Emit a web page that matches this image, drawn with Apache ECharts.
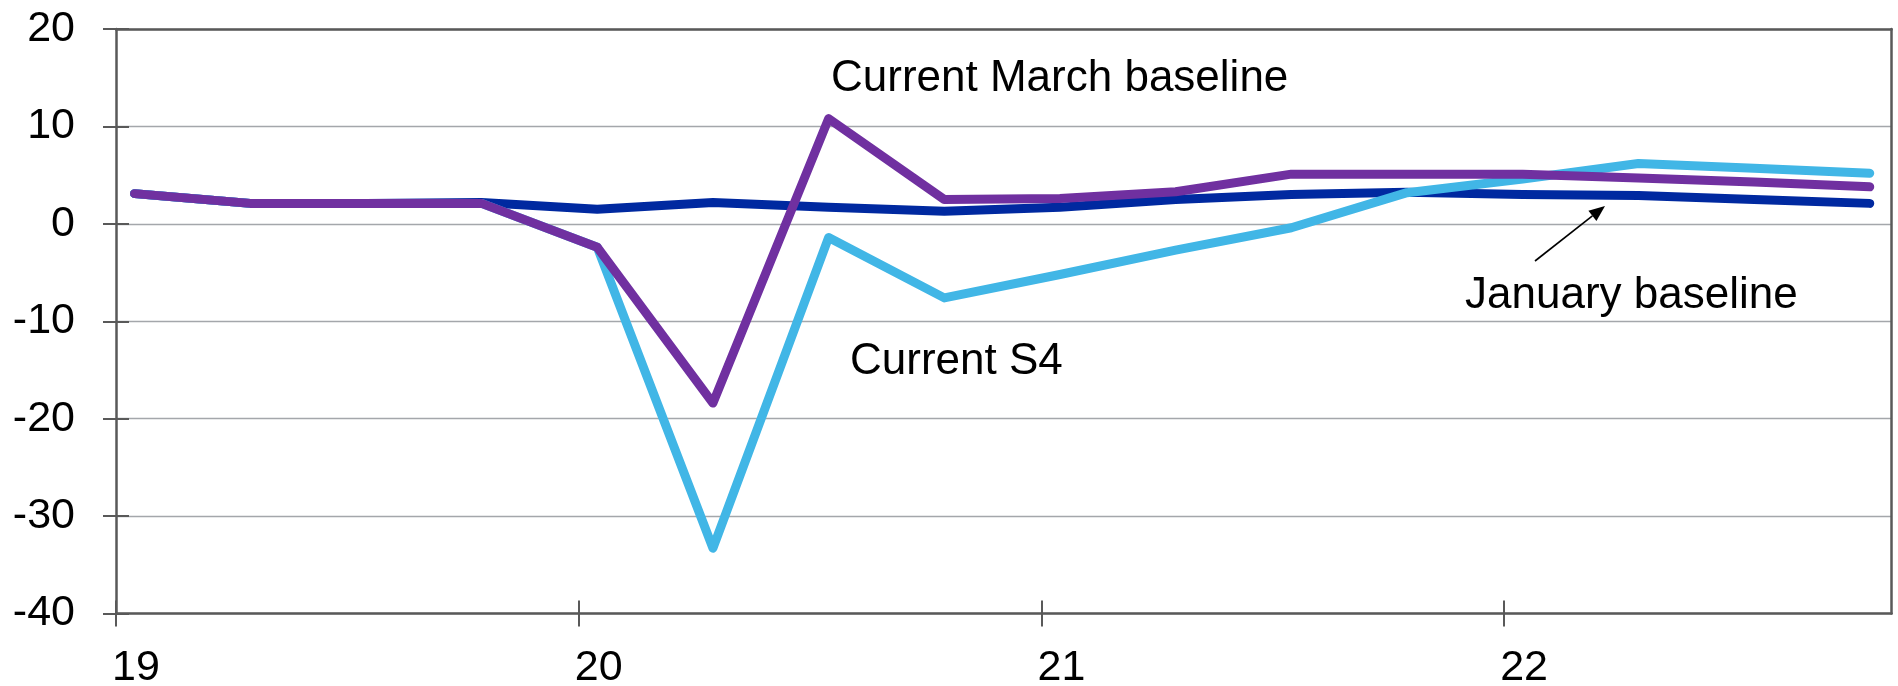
<!DOCTYPE html>
<html>
<head>
<meta charset="utf-8">
<script src="https://cdn.jsdelivr.net/npm/echarts@6/dist/echarts.min.js"></script>
<style>
  html, body { margin: 0; padding: 0; background: #ffffff; }
  #chart { width: 1898px; height: 686px; }
</style>
</head>
<body>
<div id="chart"></div>
<script>
// Quarterly profile, 2019 Q1 to 2022 Q4 (per cent)
const quarters = [
  '2019Q1', '2019Q2', '2019Q3', '2019Q4',
  '2020Q1', '2020Q2', '2020Q3', '2020Q4',
  '2021Q1', '2021Q2', '2021Q3', '2021Q4',
  '2022Q1', '2022Q2', '2022Q3', '2022Q4'
];
const januaryBaseline = [3.1, 2.1, 2.1, 2.2, 1.5, 2.2, 1.7, 1.3, 1.7, 2.5, 3.0, 3.25, 3.0, 2.9, 2.5, 2.1];
const currentMarchBaseline = [3.1, 2.1, 2.1, 2.1, -2.4, -18.4, 10.8, 2.5, 2.6, 3.3, 5.1, 5.1, 5.1, 4.7, 4.3, 3.8];
const currentS4 = [3.1, 2.1, 2.1, 2.1, -2.4, -33.3, -1.4, -7.6, -5.2, -2.7, -0.4, 3.2, 4.6, 6.2, 5.7, 5.2];

const yearTicks = [19, 20, 21, 22];

// Each quarterly observation sits just after the start of its quarter on the year scale
const POINT_OFFSET = 0.04;
function quarterToX(q) {
  const year = parseInt(q.slice(2, 4), 10);
  const qn = parseInt(q.slice(5), 10);
  return year + (qn - 1) / 4 + POINT_OFFSET;
}
function pairs(values) {
  return quarters.map((q, i) => [quarterToX(q), values[i]]);
}

const FONT = '"Liberation Sans", Arial, sans-serif';
const AXIS_COLOR = '#595959';
const GRID_COLOR = '#A4A7AB';
const X_MIN = 19, X_MAX = 22.837;
const LINE_W = 9;

const chart = echarts.init(document.getElementById('chart'), null, { renderer: 'canvas' });

// Arrow pointing at the January baseline line
const arrowStart = [1535, 261];
const arrowTip = [1605, 206];
function arrowGraphics(s, t, headLen, headHalf) {
  const dx = t[0] - s[0], dy = t[1] - s[1];
  const len = Math.hypot(dx, dy);
  const ux = dx / len, uy = dy / len;
  const bx = t[0] - ux * headLen, by = t[1] - uy * headLen;
  const px = -uy * headHalf, py = ux * headHalf;
  return [
    { type: 'line', shape: { x1: s[0], y1: s[1], x2: bx, y2: by },
      style: { stroke: '#000', lineWidth: 1.6 }, z: 100 },
    { type: 'polygon', shape: { points: [t, [bx + px, by + py], [bx - px, by - py]] },
      style: { fill: '#000' }, z: 100 }
  ];
}

const annotationStyle = { fill: '#000', font: '44px ' + FONT, verticalAlign: 'middle', align: 'left' };

const option = {
  animation: false,
  backgroundColor: '#ffffff',
  grid: {
    left: 116, right: 6.5, top: 29, bottom: 72.5,
    containLabel: false, outerBoundsMode: 'none'
  },
  xAxis: [
    {
      type: 'value', position: 'bottom', min: X_MIN, max: X_MAX, interval: 1,
      axisLine: { show: true, onZero: false, lineStyle: { color: AXIS_COLOR, width: 2.5 } },
      axisTick: { show: true, inside: false, length: 13, customValues: yearTicks,
                  lineStyle: { color: AXIS_COLOR, width: 2 } },
      axisLabel: { show: true, customValues: yearTicks, margin: 33, align: 'left',
                   padding: [0, 0, 0, -4], color: '#000', fontSize: 43, fontFamily: FONT,
                   formatter: v => String(Math.round(v)) },
      splitLine: { show: false }
    },
    {
      type: 'value', position: 'bottom', min: X_MIN, max: X_MAX, interval: 1,
      axisLine: { show: false, onZero: false },
      axisTick: { show: true, inside: true, length: 13, customValues: yearTicks,
                  lineStyle: { color: AXIS_COLOR, width: 2 } },
      axisLabel: { show: false },
      splitLine: { show: false }
    },
    {
      type: 'value', position: 'top', min: X_MIN, max: X_MAX,
      axisLine: { show: true, onZero: false, lineStyle: { color: AXIS_COLOR, width: 2.5 } },
      axisTick: { show: false }, axisLabel: { show: false }, splitLine: { show: false }
    }
  ],
  yAxis: [
    {
      type: 'value', position: 'left', min: -40, max: 20, interval: 10,
      axisLine: { show: true, onZero: false, lineStyle: { color: AXIS_COLOR, width: 2.5 } },
      axisTick: { show: true, inside: false, length: 13, lineStyle: { color: AXIS_COLOR, width: 2 } },
      axisLabel: { show: true, margin: 41, color: '#000', fontSize: 43, fontFamily: FONT },
      splitLine: { show: true, lineStyle: { color: GRID_COLOR, width: 1.3 } }
    },
    {
      type: 'value', position: 'left', min: -40, max: 20, interval: 10,
      axisLine: { show: false, onZero: false },
      axisTick: { show: true, inside: true, length: 13, lineStyle: { color: AXIS_COLOR, width: 2 } },
      axisLabel: { show: false }, splitLine: { show: false }
    },
    {
      type: 'value', position: 'right', min: -40, max: 20, interval: 10,
      axisLine: { show: true, onZero: false, lineStyle: { color: AXIS_COLOR, width: 2.5 } },
      axisTick: { show: false }, axisLabel: { show: false }, splitLine: { show: false }
    }
  ],
  series: [
    {
      name: 'January baseline', type: 'line', data: pairs(januaryBaseline),
      xAxisIndex: 0, yAxisIndex: 0, symbol: 'none', z: 3,
      lineStyle: { color: '#0029A0', width: LINE_W, cap: 'round', join: 'round' }
    },
    {
      name: 'Current S4', type: 'line', data: pairs(currentS4),
      xAxisIndex: 0, yAxisIndex: 0, symbol: 'none', z: 4,
      lineStyle: { color: '#41B6E6', width: LINE_W, cap: 'round', join: 'round' }
    },
    {
      name: 'Current March baseline', type: 'line', data: pairs(currentMarchBaseline),
      xAxisIndex: 0, yAxisIndex: 0, symbol: 'none', z: 5,
      lineStyle: { color: '#7030A0', width: LINE_W, cap: 'round', join: 'round' }
    }
  ],
  graphic: [
    { type: 'text', left: 831, top: 78.7 - 22, style: Object.assign({ text: 'Current March baseline' }, annotationStyle), z: 100 },
    { type: 'text', left: 850, top: 362 - 22, style: Object.assign({ text: 'Current S4' }, annotationStyle), z: 100 },
    { type: 'text', left: 1465, top: 296 - 22, style: Object.assign({ text: 'January baseline' }, annotationStyle), z: 100 }
  ].concat(arrowGraphics(arrowStart, arrowTip, 16, 6.5))
};

chart.setOption(option);
</script>
</body>
</html>
